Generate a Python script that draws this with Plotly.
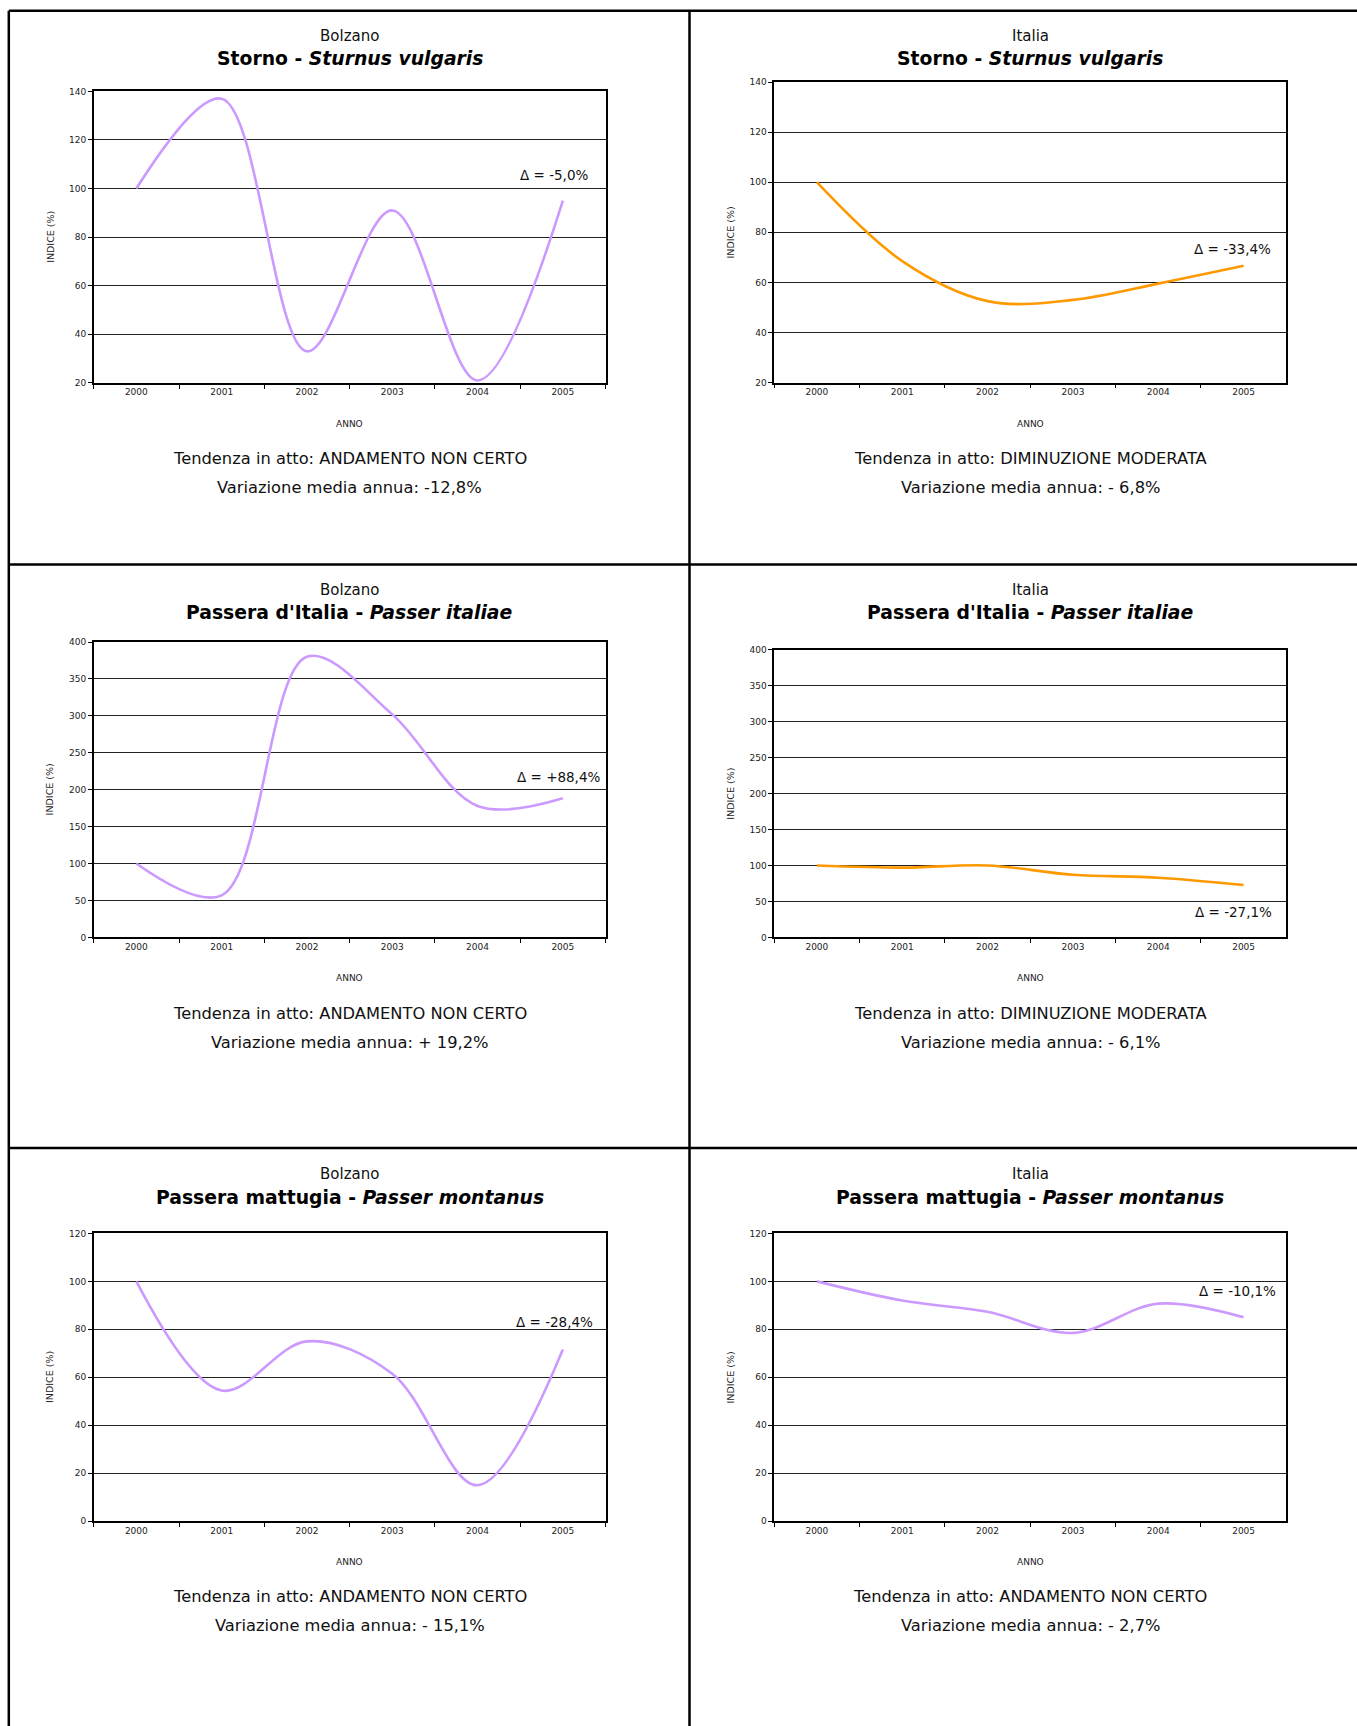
import plotly.graph_objects as go

# data (indice %, base 2000 = 100)
years = ["2000", "2001", "2002", "2003", "2004", "2005"]

storno_bolzano = [100, 137, 33, 91, 21, 95]
storno_italia = [100, 68.5, 52.5, 53, 59.5, 66.6]
italiae_bolzano = [100, 57, 380, 302, 178, 188.4]
italiae_italia = [100, 97, 100, 87, 83, 72.9]
montanus_bolzano = [100, 54.5, 75, 61.5, 15, 71.6]
montanus_italia = [100, 92, 87.3, 78.5, 90.7, 85]

sites = ["Bolzano", "Italia"]
species = ["Storno", "Passera d'Italia", "Passera mattugia"]
latin = ["Sturnus vulgaris", "Passer italiae", "Passer montanus"]
series = [
    [storno_bolzano, storno_italia],
    [italiae_bolzano, italiae_italia],
    [montanus_bolzano, montanus_italia],
]
deltas = [
    ["Δ = -5,0%", "Δ = -33,4%"],
    ["Δ = +88,4%", "Δ = -27,1%"],
    ["Δ = -28,4%", "Δ = -10,1%"],
]
trends = [
    ["ANDAMENTO NON CERTO", "DIMINUZIONE MODERATA"],
    ["ANDAMENTO NON CERTO", "DIMINUZIONE MODERATA"],
    ["ANDAMENTO NON CERTO", "ANDAMENTO NON CERTO"],
]
annual = [
    ["-12,8%", "- 6,8%"],
    ["+ 19,2%", "- 6,1%"],
    ["- 15,1%", "- 2,7%"],
]
y_ranges = [[20, 140], [0, 400], [0, 120]]
y_steps = [20, 50, 20]

PURPLE = "#CC99FF"
ORANGE = "#FF9900"
colors = [[PURPLE, ORANGE], [PURPLE, ORANGE], [PURPLE, PURPLE]]

# page geometry (pixels)
W, H = 1357, 1726
col_x = [(93.7, 605.5), (774.2, 1286.3)]
plot_y = [
    [(91.4, 382.9), (82.1, 382.5)],
    [(642.0, 937.4), (649.6, 937.4)],
    [(1233.4, 1521.2), (1233.4, 1521.2)],
]
site_y = [35.7, 590.1, 1174.4]
title_y = [58.2, 612.7, 1197.2]
anno_y = [423.6, 978.4, 1561.6]
trend_y = [458.2, 1013.4, 1596.7]
var_y = [487.5, 1042.4, 1625.8]
delta_shift = [[(-9, 26), (-11, 17)], [(-4, 21), (-10, -27)], [(-8, 27), (-6, 26)]]

FONT = "DejaVu Sans"


def px(x):
    return x / W


def py(y):
    return 1 - y / H


def label(x, y, text, size, color="#111111", **kw):
    return dict(xref="paper", yref="paper", x=px(x), y=py(y), text=text,
                xanchor="center", yanchor="middle", showarrow=False,
                font=dict(size=size, color=color), **kw)


fig = go.Figure()
layout = dict(
    width=W,
    height=H,
    autosize=False,
    margin=dict(l=0, r=0, t=0, b=0, pad=0, autoexpand=False),
    paper_bgcolor="white",
    plot_bgcolor="white",
    showlegend=False,
    font=dict(family=FONT, color="#111111"),
)
annotations = []
shapes = []

n = 0
for r in range(3):
    for c in range(2):
        n += 1
        xa = "xaxis" if n == 1 else "xaxis%d" % n
        ya = "yaxis" if n == 1 else "yaxis%d" % n
        xr = "x" if n == 1 else "x%d" % n
        yr = "y" if n == 1 else "y%d" % n
        x0, x1 = col_x[c]
        y0, y1 = plot_y[r][c]
        cx = (x0 + x1) / 2
        vals = series[r][c]

        fig.add_trace(go.Scatter(
            x=years, y=vals, xaxis=xr, yaxis=yr, mode="lines",
            line=dict(color=colors[r][c], width=2.6, shape="spline", smoothing=1),
            hoverinfo="skip",
        ))

        layout[xa] = dict(
            domain=[px(x0), px(x1)], anchor=yr, type="category", automargin=False,
            range=[-0.5, 5.5], showgrid=False, showline=True, mirror=True,
            linecolor="#000000", linewidth=1.5, ticks="outside", tickson="boundaries",
            ticklen=4, tickcolor="#000000", tickfont=dict(size=9, family=FONT, color="#222222"),
            fixedrange=True,
        )
        layout[ya] = dict(
            domain=[py(y1), py(y0)], anchor=xr, range=y_ranges[r], automargin=False,
            dtick=y_steps[r], tick0=0, showgrid=True, gridcolor="#222222", gridwidth=1.3,
            showline=True, mirror=True, linecolor="#000000", linewidth=1.5,
            ticks="outside", ticklen=4, tickcolor="#000000", zeroline=False,
            tickfont=dict(size=9, family=FONT, color="#222222"), fixedrange=True,
        )

        # texts around each chart
        annotations += [
            label(cx, site_y[r], sites[c], 15),
            label(cx, title_y[r], "<b>%s - <i>%s</i></b>" % (species[r], latin[r]), 18.8, "#000000"),
            label(cx, anno_y[r], "ANNO", 9, "#222222"),
            label(x0 - 44, (y0 + y1) / 2, "INDICE (%)", 9.5, "#222222", textangle=-90),
            label(cx, trend_y[r], "Tendenza in atto: " + trends[r][c], 16.3),
            label(cx, var_y[r], "Variazione media annua: " + annual[r][c], 16.3),
            dict(xref=xr, yref=yr, x=len(vals) - 1, y=vals[-1], text=deltas[r][c],
                 xshift=delta_shift[r][c][0], yshift=delta_shift[r][c][1],
                 xanchor="center", yanchor="middle",
                 showarrow=False, font=dict(size=13.5, color="#111111")),
        ]

# outer frame and cell dividers
frame = dict(type="line", xref="paper", yref="paper", line=dict(color="#000000", width=2.5))
shapes.append(dict(frame, x0=px(8.8), x1=1, y0=py(10.7), y1=py(10.7)))
shapes.append(dict(frame, x0=px(8.8), x1=px(8.8), y0=py(10.7), y1=0))
shapes.append(dict(frame, x0=px(689.5), x1=px(689.5), y0=py(10.7), y1=0))
shapes.append(dict(frame, x0=px(8.8), x1=1, y0=py(564.5), y1=py(564.5)))
shapes.append(dict(frame, x0=px(8.8), x1=1, y0=py(1148), y1=py(1148)))

layout["annotations"] = annotations
layout["shapes"] = shapes
fig.update_layout(**layout)

fig.write_html("out.html", config={"displayModeBar": False},
               post_script="document.body.style.margin='0';")
